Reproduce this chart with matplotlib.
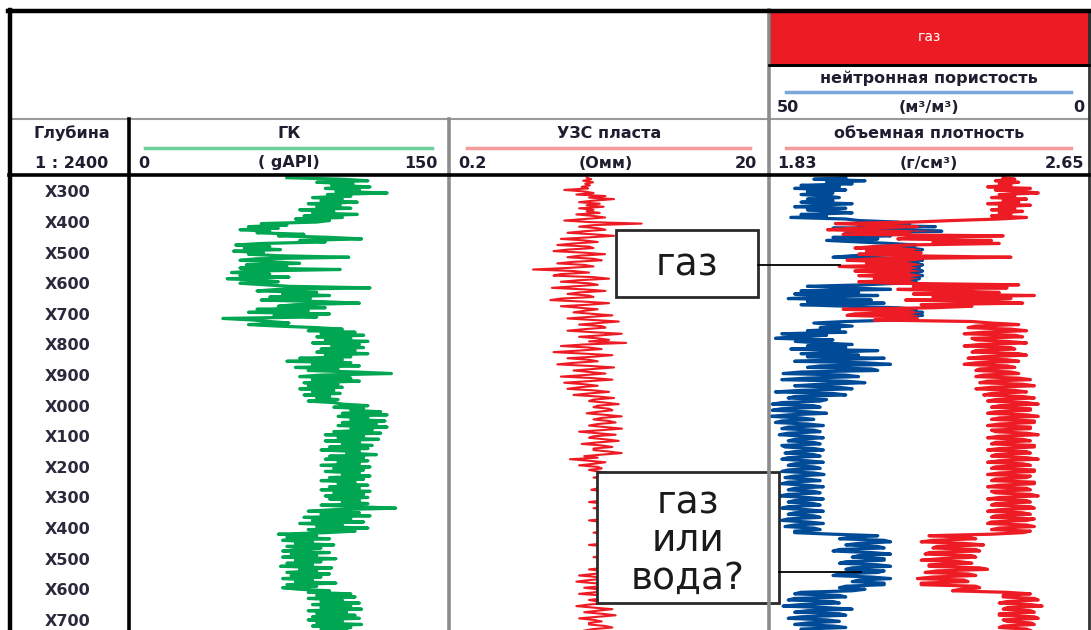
import numpy as np
import matplotlib
matplotlib.use("Agg")
import matplotlib.pyplot as plt
from matplotlib.patches import Rectangle

# ---------------- log data (depth step 5, starting at 250) ----------------
depth_start = 250
depth_step = 5

gr = [74, 100, 112, 88, 105, 95, 113, 92, 108, 97,
      121, 93, 104, 86, 100, 90, 107, 84, 99, 88,
      104, 80, 96, 86, 107, 82, 100, 78, 94, 88,
      62, 74, 56, 70, 52, 66, 60, 82, 70, 94,
      109, 80, 92, 62, 50, 66, 54, 71, 49, 63,
      56, 70, 103, 60, 52, 68, 80, 55, 74, 52,
      99, 58, 48, 66, 52, 75, 46, 60, 70, 52,
      64, 75, 113, 70, 60, 88, 72, 94, 66, 85,
      62, 90, 108, 78, 70, 92, 60, 84, 56, 94,
      68, 88, 44, 58, 66, 75, 56, 70, 88, 100,
      84, 106, 90, 110, 88, 104, 92, 112, 86, 108,
      95, 110, 90, 106, 88, 112, 92, 104, 80, 100,
      74, 104, 86, 108, 78, 98, 84, 106, 123, 90,
      80, 104, 86, 108, 82, 98, 84, 100, 80, 96,
      86, 99, 82, 94, 88, 98, 84, 96, 100, 112,
      96, 110, 104, 118, 100, 121, 98, 112, 104, 120,
      100, 116, 98, 121, 104, 114, 96, 118, 92, 110,
      98, 117, 92, 108, 100, 114, 94, 112, 90, 108,
      102, 116, 94, 110, 92, 112, 98, 108, 90, 113,
      96, 110, 92, 108, 100, 113, 94, 110, 90, 106,
      98, 112, 94, 108, 90, 113, 96, 110, 92, 112,
      94, 108, 100, 112, 90, 106, 125, 96, 84, 108,
      90, 113, 82, 104, 86, 110, 80, 100, 88, 112,
      84, 106, 92, 70, 88, 74, 94, 72, 86, 78,
      96, 74, 90, 80, 72, 94, 76, 88, 72, 97,
      78, 90, 74, 86, 71, 95, 80, 88, 74, 94,
      76, 90, 72, 86, 78, 97, 74, 88, 72, 80,
      94, 84, 104, 88, 106, 84, 100, 90, 108, 86,
      104, 90, 109, 84, 102, 88, 106, 86, 108, 84,
      100, 88, 109, 86, 104, 90, 102]

res = [1.45, 1.55, 1.38, 1.59, 1.42, 1.52, 1.35, 1.48, 1.05, 1.4,
       1.6, 1.25, 1.9, 1.5, 2.15, 1.6, 1.3, 1.75, 1.45, 1.85,
       1.3, 1.6, 1.45, 1.75, 1.25, 1.6, 1.89, 1.4, 1.05, 1.5,
       3.2, 1.6, 1.3, 1.7, 1.9, 1.4, 1.1, 1.6, 2.15, 1.5,
       1.0, 1.4, 1.7, 1.2, 0.95, 1.5, 1.6, 1.1, 0.9, 1.4,
       1.89, 1.3, 1.1, 1.6, 1.8, 1.2, 0.95, 1.4, 1.6, 1.1,
       0.67, 1.2, 1.5, 1.0, 0.9, 1.6, 2.0, 1.3, 1.0, 1.5,
       1.7, 1.2, 0.88, 1.4, 1.9, 1.3, 1.1, 1.5, 1.6, 1.0,
       0.86, 1.4, 2.0, 1.5, 1.0, 1.3, 1.7, 1.4, 1.2, 1.6,
       2.1, 1.5, 1.1, 1.6, 2.3, 1.7, 1.3, 1.8, 1.9, 1.4,
       1.1, 1.6, 2.4, 1.8, 1.3, 1.7, 2.0, 1.5, 2.56, 1.4,
       1.0, 1.5, 1.8, 1.3, 0.9, 1.4, 2.1, 1.6, 1.1, 1.5,
       1.7, 1.2, 0.95, 1.5, 2.15, 1.6, 1.2, 1.5, 1.9, 1.4,
       1.0, 1.6, 2.1, 1.5, 1.05, 1.4, 1.7, 1.3, 1.1, 1.6,
       2.0, 1.5, 1.2, 1.7, 2.15, 1.6, 1.5, 1.9, 2.3, 1.7,
       1.6, 2.0, 2.1, 1.7, 1.45, 1.9, 2.4, 1.8, 1.6, 2.0,
       2.2, 1.7, 1.5, 1.9, 2.41, 1.8, 1.3, 1.7, 2.2, 1.6,
       1.5, 1.9, 2.3, 1.7, 1.35, 1.8, 2.1, 1.6, 1.6, 2.0,
       2.4, 1.8, 1.4, 1.7, 1.14, 1.5, 1.9, 1.6, 1.3, 1.7,
       1.8, 1.5, 1.7, 2.0, 2.2, 1.8, 1.6, 2.0, 2.3, 1.9,
       1.8, 2.1, 2.1, 1.7, 1.55, 1.9, 2.4, 2.0, 1.7, 2.1,
       2.2, 1.8, 1.5, 1.9, 2.3, 1.9, 1.6, 2.0, 2.1, 1.8,
       1.8, 2.2, 2.4, 1.9, 1.5, 1.8, 2.0, 1.7, 1.7, 2.1,
       2.3, 1.9, 1.6, 2.0, 2.2, 1.8, 1.8, 2.1, 2.4, 1.9,
       1.5, 1.9, 2.1, 1.8, 1.7, 2.0, 2.3, 1.9, 1.6, 2.0,
       2.0, 1.7, 1.8, 2.1, 2.4, 1.9, 1.5, 1.8, 2.1, 1.6,
       1.3, 1.7, 1.9, 1.5, 1.25, 1.6, 2.2, 1.8, 1.4, 1.7,
       2.0, 1.6, 1.3, 1.8, 2.3, 1.8, 1.5, 1.7, 1.9, 1.5,
       1.25, 1.6, 2.1, 1.7, 1.4, 1.8, 2.2, 1.7, 1.3, 1.6,
       1.8, 1.5, 1.5, 1.9, 2.1, 1.6, 1.4]

rhob = [2.43, 2.46, 2.41, 2.47, 2.42, 2.45, 2.39, 2.50, 2.41, 2.48,
        2.52, 2.42, 2.46, 2.40, 2.49, 2.43, 2.47, 2.39, 2.50, 2.42,
        2.46, 2.40, 2.48, 2.42, 2.45, 2.40, 2.49, 2.42, 2.30, 2.20,
        2.00, 2.12, 2.21, 2.05, 1.98, 2.10, 2.19, 2.02, 2.43, 2.20,
        2.16, 2.40, 2.25, 2.42, 2.18, 2.10, 2.05, 2.20, 2.08, 2.22,
        2.06, 2.18, 2.45, 2.10, 2.03, 2.15, 2.08, 2.18, 2.01, 2.12,
        2.18, 2.05, 2.14, 2.19, 2.06, 2.16, 2.10, 2.19, 2.06, 2.15,
        2.47, 2.20, 2.44, 2.16, 2.30, 2.42, 2.20, 2.51, 2.25, 2.45,
        2.18, 2.40, 2.48, 2.22, 2.35, 2.25, 2.02, 2.15, 2.20, 2.05,
        2.03, 2.18, 2.21, 2.10, 2.35, 2.40, 2.47, 2.36, 2.34, 2.45,
        2.49, 2.38, 2.33, 2.46, 2.48, 2.35, 2.36, 2.44, 2.49, 2.37,
        2.33, 2.45, 2.46, 2.36, 2.35, 2.47, 2.49, 2.38, 2.34, 2.44,
        2.47, 2.36, 2.33, 2.44, 2.46, 2.37, 2.36, 2.45, 2.47, 2.38,
        2.36, 2.47, 2.50, 2.39, 2.37, 2.48, 2.51, 2.40, 2.36, 2.46,
        2.49, 2.40, 2.38, 2.48, 2.51, 2.41, 2.39, 2.49, 2.52, 2.42,
        2.40, 2.50, 2.50, 2.41, 2.39, 2.49, 2.52, 2.42, 2.40, 2.51,
        2.51, 2.42, 2.39, 2.50, 2.50, 2.40, 2.41, 2.49, 2.52, 2.42,
        2.39, 2.48, 2.50, 2.41, 2.40, 2.51, 2.51, 2.42, 2.39, 2.49,
        2.50, 2.41, 2.40, 2.49, 2.52, 2.42, 2.39, 2.48, 2.50, 2.41,
        2.40, 2.51, 2.51, 2.42, 2.39, 2.50, 2.49, 2.41, 2.40, 2.51,
        2.51, 2.42, 2.39, 2.49, 2.50, 2.40, 2.41, 2.50, 2.52, 2.42,
        2.39, 2.49, 2.50, 2.41, 2.40, 2.50, 2.51, 2.42, 2.39, 2.48,
        2.50, 2.41, 2.40, 2.51, 2.49, 2.40, 2.39, 2.49, 2.51, 2.42,
        2.40, 2.50, 2.48, 2.40, 2.24, 2.34, 2.36, 2.25, 2.22, 2.33,
        2.38, 2.26, 2.25, 2.36, 2.37, 2.24, 2.23, 2.35, 2.36, 2.27,
        2.22, 2.32, 2.35, 2.24, 2.24, 2.37, 2.39, 2.26, 2.23, 2.34,
        2.36, 2.25, 2.21, 2.33, 2.34, 2.22, 2.22, 2.36, 2.37, 2.32,
        2.30, 2.44, 2.50, 2.43, 2.43, 2.51, 2.52, 2.44, 2.42, 2.50,
        2.53, 2.44, 2.43, 2.50, 2.51, 2.42, 2.42, 2.51, 2.52, 2.43,
        2.44, 2.50, 2.51, 2.43, 2.42, 2.49, 2.50]

nphi = [38, 43, 35, 41, 37, 45, 39, 46, 38, 44,
        40, 45, 41, 39, 44, 40, 45, 37, 42, 46,
        38, 44, 40, 37, 45, 41, 46.6, 38, 36, 30,
        28, 36, 24, 40, 30, 23, 38, 33, 31, 40,
        33, 41, 36, 31, 27, 30, 28, 26, 30, 27,
        29, 37, 40, 28, 26, 28.5, 27, 26, 28, 26.5,
        28, 26, 28.5, 27, 26, 28, 26.5, 28.5, 27, 30,
        35, 44, 38, 31, 45, 36, 46, 33, 42, 47,
        34, 44, 32, 45, 38, 30, 27, 29, 26, 28.5,
        26, 29, 27, 30, 38, 43, 40, 37, 42, 39,
        44, 38, 48, 41, 46, 49, 40, 45.9, 42, 37,
        44, 38, 46.6, 33, 40, 45, 36, 44, 32, 40,
        46, 35, 31, 42, 44, 34, 33, 45, 47.8, 38,
        36, 44, 48, 38, 35, 42, 46, 39, 37, 45,
        49, 40, 38, 46, 47, 41, 42, 48, 49.5, 43,
        42, 48, 49.5, 44, 41, 47, 49.7, 45, 43, 48,
        49, 44, 41.5, 47, 48, 43, 42, 47, 48.4, 44,
        41.5, 46, 47, 43, 42, 48, 47.5, 43, 41.5, 46,
        47.5, 43, 42, 47, 48, 44, 41.5, 46, 47, 43,
        42, 47, 48, 43, 41.4, 46, 47.5, 44, 42, 47,
        48, 44, 41.5, 46, 47, 43, 42, 47, 48.4, 44,
        41.5, 46, 47, 43, 42, 47, 48, 44, 41.5, 46,
        47, 43, 42, 47, 48, 44, 41.5, 46, 47.5, 43,
        42, 46, 46, 40, 33, 37, 39, 32, 31, 36,
        38, 33, 32, 39, 40, 34, 31, 36, 37, 32,
        32, 38, 39, 33, 31, 37, 38, 32, 33, 39,
        40, 34, 31, 36, 37, 32, 32, 38, 39, 35,
        37, 45, 46, 39, 38, 46, 47, 40, 39, 45,
        47.8, 41, 37, 44, 46, 39, 38, 45, 47, 41,
        39, 44, 46, 40, 38, 45, 45]

depth_ticks = [300, 400, 500, 600, 700, 800, 900, 1000, 1100, 1200,
               1300, 1400, 1500, 1600, 1700]
depth_labels = ["X300", "X400", "X500", "X600", "X700", "X800", "X900", "X000",
                "X100", "X200", "X300", "X400", "X500", "X600", "X700"]

gr_range = (0, 150)
res_range = (0.2, 20)
rhob_range = (1.83, 2.65)
nphi_range = (50, 0)

# ---------------- figure layout (pixel based) ----------------
W, H = 1091, 630
fig = plt.figure(figsize=(W / 100, H / 100), dpi=100)
fig.patch.set_facecolor("white")

X_LEFT, X_DEPTH, X_GR, X_RES, X_RIGHT = 9, 129, 449, 769, 1089
Y_TOP, Y_BOX, Y_ROW, Y_TRACK = 10, 65, 119, 175
DEPTH_TOP, DEPTH_BOT = 241.2, 1728.1


def px_axes(x0, y0, x1, y1, z=1):
    ax = fig.add_axes([x0 / W, 1 - y1 / H, (x1 - x0) / W, (y1 - y0) / H])
    ax.set_zorder(z)
    ax.set_ylim(DEPTH_BOT, DEPTH_TOP)
    ax.axis("off")
    return ax


GREEN = "#00a651"
RED = "#ed1c24"
BLUE = "#004b97"
TXT = "#1e1e30"

# depth column
ax_dep = px_axes(X_DEPTH - 120, Y_TRACK, X_DEPTH, H)
ax_dep.set_xlim(0, 1)
for d, lab in zip(depth_ticks, depth_labels):
    ax_dep.text(0.49, d, lab, ha="center", va="center", fontsize=11.5,
                fontweight="bold", color="#2a2a3c", family="DejaVu Sans")

# GR track
ax_gr = px_axes(X_DEPTH, Y_TRACK, X_GR, H)
ax_gr.set_xlim(*gr_range)
d_gr = depth_start + depth_step * np.arange(len(gr))
ax_gr.plot(gr, d_gr, color=GREEN, lw=2.3)

# resistivity track
ax_res = px_axes(X_GR, Y_TRACK, X_RES, H)
ax_res.set_xscale("log")
ax_res.set_xlim(*res_range)
ax_res.axis("off")
d_res = depth_start + depth_step * np.arange(len(res))
ax_res.plot(res, d_res, color=RED, lw=1.5)

# neutron / density track
ax_n = px_axes(X_RES, Y_TRACK, X_RIGHT, H)
ax_n.set_xlim(*nphi_range)
d_n = depth_start + depth_step * np.arange(len(nphi))
ax_n.plot(nphi, d_n, color=BLUE, lw=2.3)

ax_d = ax_n.twiny()
ax_d.set_xlim(*rhob_range)
ax_d.set_ylim(DEPTH_BOT, DEPTH_TOP)
ax_d.axis("off")
d_d = depth_start + depth_step * np.arange(len(rhob))
# neutron curve expressed in density-axis units for the crossover shading
pts = np.column_stack([nphi, d_n])
disp = ax_n.transData.transform(pts)
nphi_in_rho = ax_d.transData.inverted().transform(disp)[:, 0]
rho_arr = np.array(rhob)
ax_d.fill_betweenx(d_d, rho_arr, nphi_in_rho, where=rho_arr < nphi_in_rho,
                   color=RED, lw=0, interpolate=True)
ax_d.plot(rhob, d_d, color=RED, lw=2.3)

# ---------------- overlay: grid, headers, annotations ----------------
ov = fig.add_axes([0, 0, 1, 1])
ov.set_zorder(10)
ov.set_xlim(0, W)
ov.set_ylim(H, 0)
ov.axis("off")

# red "gas" header box
ov.add_patch(Rectangle((X_RES, Y_TOP), X_RIGHT - X_RES, Y_BOX - Y_TOP,
                       facecolor=RED, edgecolor="black", lw=2))
ov.text((X_RES + X_RIGHT) / 2, 37, "газ", color="white", fontsize=10,
        ha="center", va="center", family="DejaVu Sans")

GREY = "#8c8c8c"
ov.plot([X_LEFT, X_RIGHT], [Y_ROW, Y_ROW], color="#9a9a9a", lw=1.5)
ov.plot([X_GR, X_GR], [Y_ROW, H], color=GREY, lw=2.6)
ov.plot([X_RES, X_RES], [Y_TOP, H], color=GREY, lw=2.6)
ov.plot([X_RIGHT, X_RIGHT], [Y_TOP, H], color="#333333", lw=2)
ov.plot([X_DEPTH, X_DEPTH], [Y_ROW, H], color="black", lw=2.6)
ov.plot([X_LEFT, X_RIGHT], [Y_TRACK, Y_TRACK], color="black", lw=2.6)
ov.plot([X_LEFT - 1, X_RIGHT + 1], [Y_TOP + 0.5, Y_TOP + 0.5], color="black", lw=3.2)
ov.plot([X_LEFT + 0.5, X_LEFT + 0.5], [Y_TOP, H], color="black", lw=3.2)
ov.plot([X_RES, X_RIGHT], [Y_BOX, Y_BOX], color="black", lw=2)

hdr = dict(fontsize=11.5, fontweight="bold", color=TXT, family="DejaVu Sans")

# depth header
ov.text(72, 133, "Глубина", ha="center", va="center", **hdr)
ov.text(72, 163, "1 : 2400", ha="center", va="center", **hdr)

# GR header
ov.text(289, 133, "ГК", ha="center", va="center", **hdr)
ov.plot([145, 432], [148, 148], color="#6fcf9c", lw=2.5)
ov.text(138, 163, "0", ha="left", va="center", **hdr)
ov.text(289, 163, "( gAPI)", ha="center", va="center", **hdr)
ov.text(438, 163, "150", ha="right", va="center", **hdr)

# resistivity header
ov.text(609, 133, "УЗС пласта", ha="center", va="center", **hdr)
ov.plot([467, 750], [148, 148], color="#f39a9a", lw=2.5)
ov.text(458, 163, "0.2", ha="left", va="center", **hdr)
ov.text(606, 164, "(Омм)", ha="center", va="center", **hdr)
ov.text(757, 163, "20", ha="right", va="center", **hdr)

# density header
ov.text(929, 133, "объемная плотность", ha="center", va="center", **hdr)
ov.plot([786, 1071], [148, 148], color="#f39a9a", lw=2.5)
ov.text(777, 163, "1.83", ha="left", va="center", **hdr)
ov.text(929, 164, "(г/см³)", ha="center", va="center", **hdr)
ov.text(1084, 163, "2.65", ha="right", va="center", **hdr)

# neutron header
ov.text(929, 78, "нейтронная пористость", ha="center", va="center", **hdr)
ov.plot([786, 1071], [92, 92], color="#7aa6da", lw=2.5)
ov.text(777, 107, "50", ha="left", va="center", **hdr)
ov.text(929, 108, "(м³/м³)", ha="center", va="center", **hdr)
ov.text(1084, 107, "0", ha="right", va="center", **hdr)

# annotation boxes
box_font = dict(fontsize=27, color="#1a1a1a", family="DejaVu Sans",
                ha="center", va="center")
ov.plot([758, 840], [265, 265], color="black", lw=1.3)
ov.add_patch(Rectangle((616, 230), 142, 67, facecolor="white",
                       edgecolor="#2a2a2a", lw=2))
ov.text(687, 265, "газ", **box_font)

ov.plot([779, 861], [572, 572], color="black", lw=1.3)
ov.add_patch(Rectangle((597, 472), 182, 131, facecolor="white",
                       edgecolor="#2a2a2a", lw=2))
ov.text(688, 504, "газ", **box_font)
ov.text(688, 541, "или", **box_font)
ov.text(688, 579, "вода?", **box_font)

fig.savefig("out.png", dpi=100)
